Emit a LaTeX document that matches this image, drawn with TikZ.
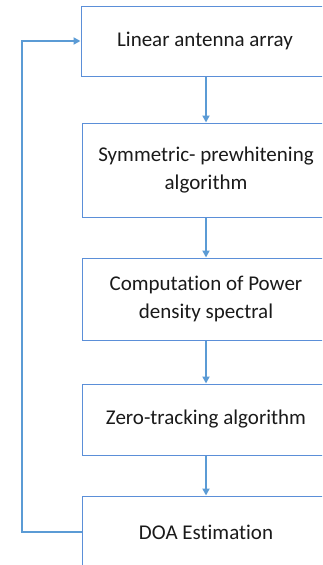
\documentclass[tikz,border=0pt]{standalone}
\usepackage{fontspec}
\setmainfont{Carlito}[Ligatures=NoCommon]
\usetikzlibrary{arrows.meta}
\definecolor{boxc}{HTML}{5B8FD8}
\definecolor{arrc}{HTML}{5B9BD5}
\definecolor{txtc}{HTML}{1A1A1A}
\begin{document}
\begin{tikzpicture}[x=1pt,y=-1pt,
  stepbox/.style={draw=boxc,line width=1pt,fill=white,minimum width=248pt,align=center,inner sep=0pt,text=txtc,font=\fontsize{21}{28}\selectfont},
  conn/.style={draw=arrc,line width=2pt,-{Triangle[length=7pt,width=7pt]}}]
\useasboundingbox (0,0) rectangle (322,565);
\clip (0,0) rectangle (322,565);
\node[stepbox,minimum height=70pt] (b1) at (205,41) {Linear antenna array};
\node[stepbox,minimum height=94pt] (b2) at (206,170) {Symmetric- prewhitening\\algorithm};
\node[stepbox,minimum height=82pt] (b3) at (206,299) {Computation of Power\\density spectral};
\node[stepbox,minimum height=71pt] (b4) at (206,419.5) {Zero-tracking algorithm};
\node[stepbox,minimum height=100pt,text height=0pt] (b5) at (206,546) {};
\node[text=txtc,font=\fontsize{21}{28}\selectfont] (t5) at (206,532) {DOA Estimation};
\draw[conn] (b1.south -| 206,0) -- (b2.north -| 206,0);
\draw[conn] (b2.south -| 206,0) -- (b3.north -| 206,0);
\draw[conn] (b3.south -| 206,0) -- (b4.north -| 206,0);
\draw[conn] (b4.south -| 206,0) -- (b5.north -| 206,0);
\coordinate (fb) at (b5.west |- t5);
\draw[conn] (fb) -- (22,532) -- (22,41) -- (b1.west);
\end{tikzpicture}
\end{document}
